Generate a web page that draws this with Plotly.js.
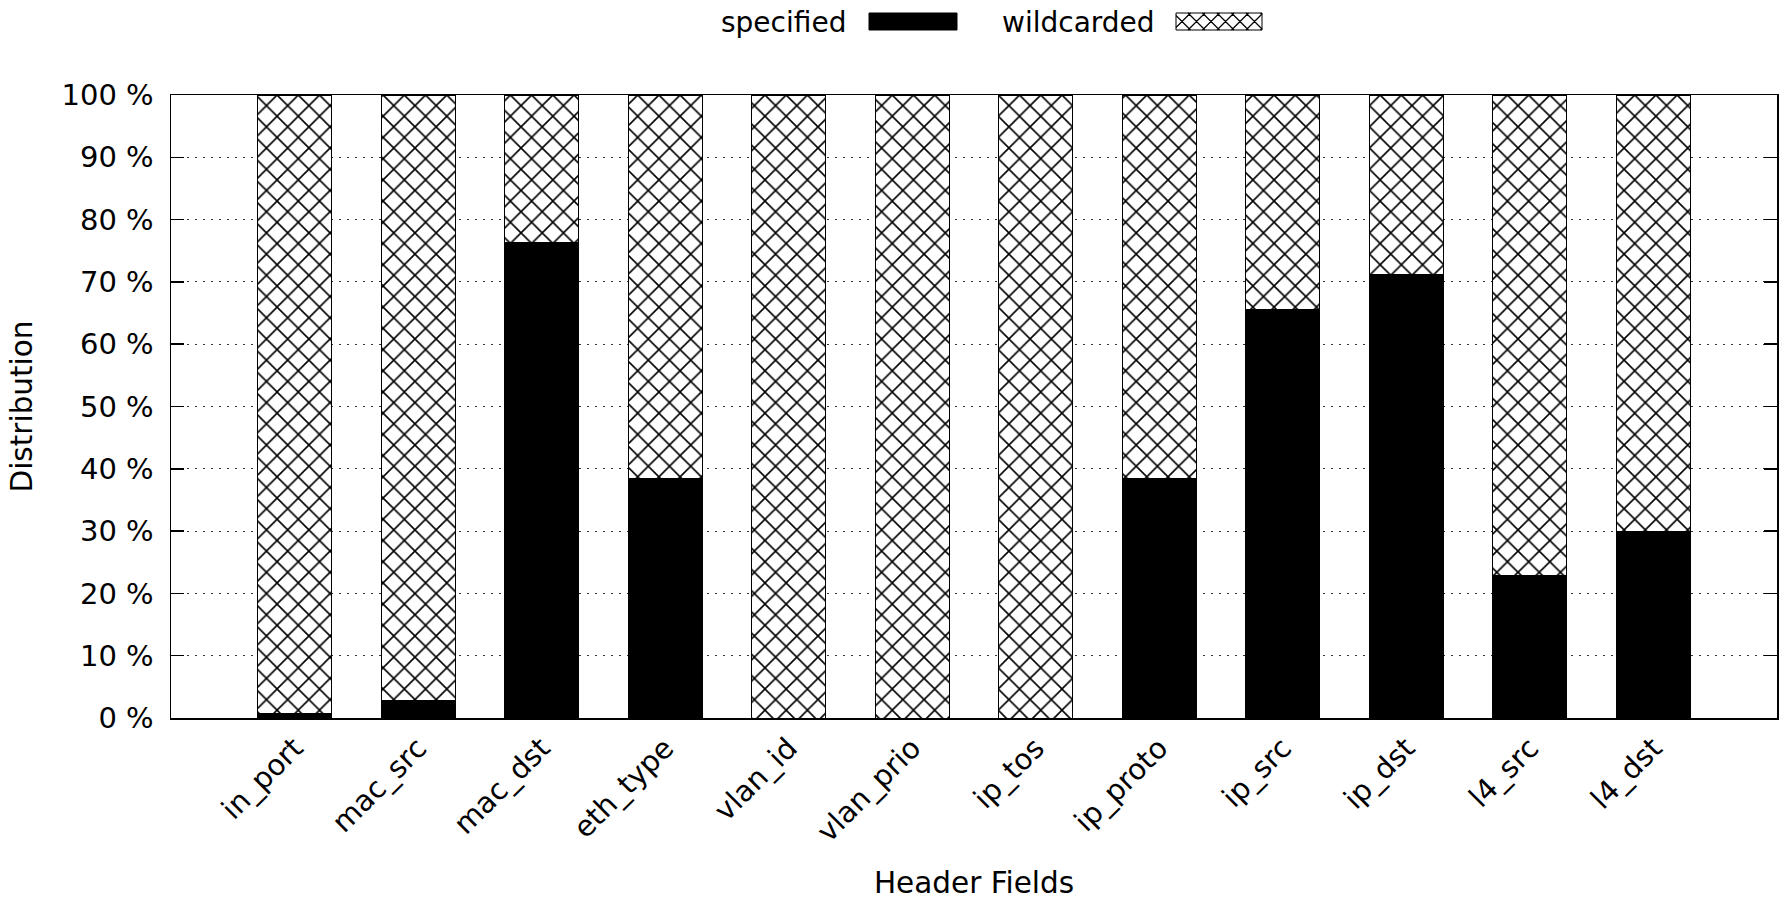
<!DOCTYPE html>
<html>
<head>
<meta charset="utf-8">
<script src="https://cdn.plot.ly/plotly-3.0.1.min.js"></script>
<style>html,body{margin:0;padding:0;background:#fff;}#chart{width:1785px;height:900px;}</style>
</head>
<body>
<div id="chart"></div>
<script>
const categories = ["in_port","mac_src","mac_dst","eth_type","vlan_id","vlan_prio","ip_tos","ip_proto","ip_src","ip_dst","l4_src","l4_dst"];
const specified = [0.8, 2.8, 76.3, 38.5, 0, 0, 0, 38.5, 65.5, 71.2, 22.8, 30.0];
const wildcarded = [99.2, 97.2, 23.7, 61.5, 100, 100, 100, 61.5, 34.5, 28.8, 77.2, 70.0];
const seriesNames = ["specified", "wildcarded"];
const xTitle = "Header Fields";
const yTitle = "Distribution";

const W = 1785, H = 900;
const M = {l: 171, r: 8, t: 95, b: 182};
const PW = W - M.l - M.r, PH = H - M.t - M.b;
const px = x => (x - M.l) / PW;
const py = y => (H - M.b - y) / PH;
const FONT = "DejaVu Sans, sans-serif";

const traces = [
  {
    type: "bar", name: seriesNames[0], x: categories, y: specified, width: 0.6,
    marker: {color: "#000", line: {color: "#000", width: 1}},
    showlegend: false, hoverinfo: "x+y"
  },
  {
    type: "bar", name: seriesNames[1], x: categories, y: wildcarded, width: 0.6,
    marker: {color: "#fff", line: {color: "#000", width: 1},
      pattern: {shape: "x", fgcolor: "#000", bgcolor: "#fff", size: 15, solidity: 0.2, fillmode: "replace"}},
    showlegend: false, hoverinfo: "x+y"
  }
];

// legend (gnuplot style: text, then sample)
const shapes = [];
const annotations = [];
annotations.push({xref: "paper", yref: "paper", x: px(848), y: py(22), xanchor: "right", yanchor: "middle",
  text: seriesNames[0], showarrow: false, font: {family: FONT, size: 28, color: "#000"}});
annotations.push({xref: "paper", yref: "paper", x: px(1157), y: py(22), xanchor: "right", yanchor: "middle",
  text: seriesNames[1], showarrow: false, font: {family: FONT, size: 28, color: "#000"}});
shapes.push({type: "rect", xref: "paper", yref: "paper", x0: px(869), x1: px(957), y0: py(30), y1: py(13),
  fillcolor: "#000", line: {color: "#000", width: 1}});
// hatch sample
(function(){
  const x0 = 1176, x1 = 1262, y0 = 13, y1 = 30, p = 14.5;
  let d = "";
  for (let c = x0 - y1 - p; c <= x1 - y0 + p; c += p) { // x - y = c
    const ya = Math.max(y0, x0 - c), yb = Math.min(y1, x1 - c);
    if (yb > ya) d += `M${px(ya + c)},${py(ya)}L${px(yb + c)},${py(yb)}`;
  }
  for (let c = x0 + y0 - p; c <= x1 + y1 + p; c += p) { // x + y = c
    const ya = Math.max(y0, c - x1), yb = Math.min(y1, c - x0);
    if (yb > ya) d += `M${px(c - ya)},${py(ya)}L${px(c - yb)},${py(yb)}`;
  }
  shapes.push({type: "rect", xref: "paper", yref: "paper", x0: px(x0), x1: px(x1), y0: py(y1), y1: py(y0),
    fillcolor: "#fff", line: {color: "#000", width: 1}});
  shapes.push({type: "path", xref: "paper", yref: "paper", path: d, line: {color: "#000", width: 1.2}});
})();

const layout = {
  width: W, height: H,
  margin: M,
  paper_bgcolor: "#fff", plot_bgcolor: "#fff",
  barmode: "stack",
  showlegend: false,
  font: {family: FONT, size: 29, color: "#000"},
  xaxis: {
    type: "category", range: [-1, 12], tickangle: -45, ticks: "",
    showline: true, linecolor: "#000", linewidth: 1.5, mirror: true,
    showgrid: false, zeroline: false,
    tickfont: {family: FONT, size: 29, color: "#000"},
    title: {text: xTitle, font: {family: FONT, size: 29.5, color: "#000"}, standoff: 30}
  },
  yaxis: {
    range: [0, 100], dtick: 10, ticksuffix: " %",
    ticks: "inside", ticklen: 13, tickcolor: "#000", tickwidth: 1.5,
    showline: true, linecolor: "#000", linewidth: 1.5, mirror: "ticks",
    showgrid: true, gridcolor: "#333", gridwidth: 1, griddash: "2px,6px",
    zeroline: false, ticklabelstandoff: 10,
    tickfont: {family: FONT, size: 29, color: "#000"},
    title: {text: yTitle, font: {family: FONT, size: 29.5, color: "#000"}, standoff: 20}
  },
  shapes: shapes,
  annotations: annotations
};

Plotly.newPlot("chart", traces, layout, {displayModeBar: false, staticPlot: true});
</script>
</body>
</html>
